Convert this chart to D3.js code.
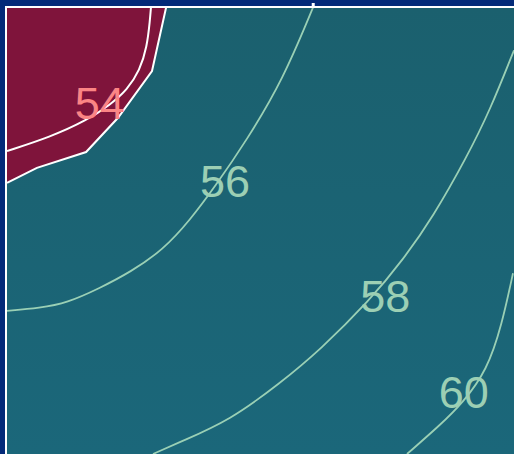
<!DOCTYPE html>
<html>
<head>
<meta charset="utf-8">
<script src="https://cdn.jsdelivr.net/npm/d3@7"></script>
<style>
	html, body { margin: 0; padding: 0; background: #032a79; }
	svg { display: block; }
	.lbl { font-family: 'Liberation Sans', Arial, sans-serif; font-size: 45px; text-anchor: middle; }
</style>
</head>
<body>
<div id="chart"></div>
<script>
// contour levels and their label spots (x, baseline y)
const levels = [54, 56, 58, 60];
const labelSpots = [[1.83, 6.75], [4.30, 5.17], [7.46, 2.86], [9.01, 0.93]];

// filled region below 54 (cell boundary, straight segments)
const fill54 = [[0, 5.46], [0.59, 5.76], [1.56, 6.08], [2.19, 6.77], [2.86, 7.71], [3.14, 9.0]];

// contour lines
const line54 = [[0, 6.10], [0.85, 6.38], [1.58, 6.72], [2.03, 7.03], [2.37, 7.33], [2.62, 7.73], [2.76, 8.19], [2.82, 8.74], [2.84, 9.0]];
const line56 = [[0, 2.88], [0.65, 2.94], [1.18, 3.04], [1.83, 3.34], [2.43, 3.66], [3.08, 4.11], [3.61, 4.71], [4.10, 5.38], [4.73, 6.32], [5.44, 7.53], [6.04, 9.0]];
const line58 = [[2.88, 0], [3.41, 0.24], [4.40, 0.68], [5.39, 1.43], [6.17, 2.09], [7.16, 3.10], [7.81, 3.91], [8.40, 4.77], [9.07, 5.98], [9.53, 6.93], [10.0, 8.13]];
const line60 = [[7.89, 0], [8.54, 0.58], [8.99, 1.03], [9.47, 1.69], [9.76, 2.60], [9.98, 3.64]];

const W = 514, H = 454;
const margin = { left: 7, top: 7 };

const svg = d3.select('#chart').append('svg')
	.attr('width', W)
	.attr('height', H);

const x = d3.scaleLinear().domain([0, 10]).range([margin.left, W]);
const y = d3.scaleLinear().domain([0, 9]).range([H, margin.top]);

// backdrop gradient for the main band
const defs = svg.append('defs');
const grad = defs.append('linearGradient')
	.attr('id', 'band')
	.attr('x1', 0).attr('y1', 0).attr('x2', 0).attr('y2', 1);
grad.append('stop').attr('offset', '0%').attr('stop-color', '#1b606e');
grad.append('stop').attr('offset', '100%').attr('stop-color', '#1b677a');

defs.append('clipPath').attr('id', 'plot')
	.append('rect')
	.attr('x', x(0)).attr('y', y(9))
	.attr('width', x(10) - x(0)).attr('height', y(0) - y(9));

const g = svg.append('g').attr('clip-path', 'url(#plot)');

g.append('rect')
	.attr('x', x(0)).attr('y', y(9))
	.attr('width', x(10) - x(0)).attr('height', y(0) - y(9))
	.attr('fill', 'url(#band)');

const straight = d3.line().x(d => x(d[0])).y(d => y(d[1]));
const smooth = d3.line().x(d => x(d[0])).y(d => y(d[1])).curve(d3.curveBasis);

// low region, closed through the top-left corner
g.append('path')
	.attr('d', straight(fill54.concat([[0, 9]])) + 'Z')
	.attr('fill', '#7f143b');

g.append('path')
	.attr('d', straight(fill54))
	.attr('fill', 'none')
	.attr('stroke', '#ffffff')
	.attr('stroke-width', 2);

g.append('path')
	.attr('d', smooth(line54))
	.attr('fill', 'none')
	.attr('stroke', '#ffffff')
	.attr('stroke-width', 2);

[line56, line58, line60].forEach(pts => {
	g.append('path')
		.attr('d', smooth(pts))
		.attr('fill', 'none')
		.attr('stroke', '#9ad0b5')
		.attr('stroke-width', 1.8);
});

g.selectAll('text.lbl')
	.data(levels)
	.join('text')
	.attr('class', 'lbl')
	.attr('x', (d, i) => x(labelSpots[i][0]))
	.attr('y', (d, i) => y(labelSpots[i][1]))
	.attr('fill', d => d === 54 ? '#fb8585' : '#9ccfb4')
	.text(d => d);

// frame edges
svg.append('line')
	.attr('x1', x(0) - 1).attr('x2', x(0) - 1)
	.attr('y1', y(9) - 1).attr('y2', H)
	.attr('stroke', '#ffffff').attr('stroke-width', 2);
svg.append('line')
	.attr('x1', x(0) - 2).attr('x2', W)
	.attr('y1', y(9)).attr('y2', y(9))
	.attr('stroke', '#ffffff').attr('stroke-width', 2);

// small tick where the 56 line meets the top edge
svg.append('rect')
	.attr('x', x(line56[line56.length - 1][0]) - 1.5)
	.attr('y', y(9) - 4)
	.attr('width', 3).attr('height', 3)
	.attr('fill', '#ffffff');
</script>
</body>
</html>
